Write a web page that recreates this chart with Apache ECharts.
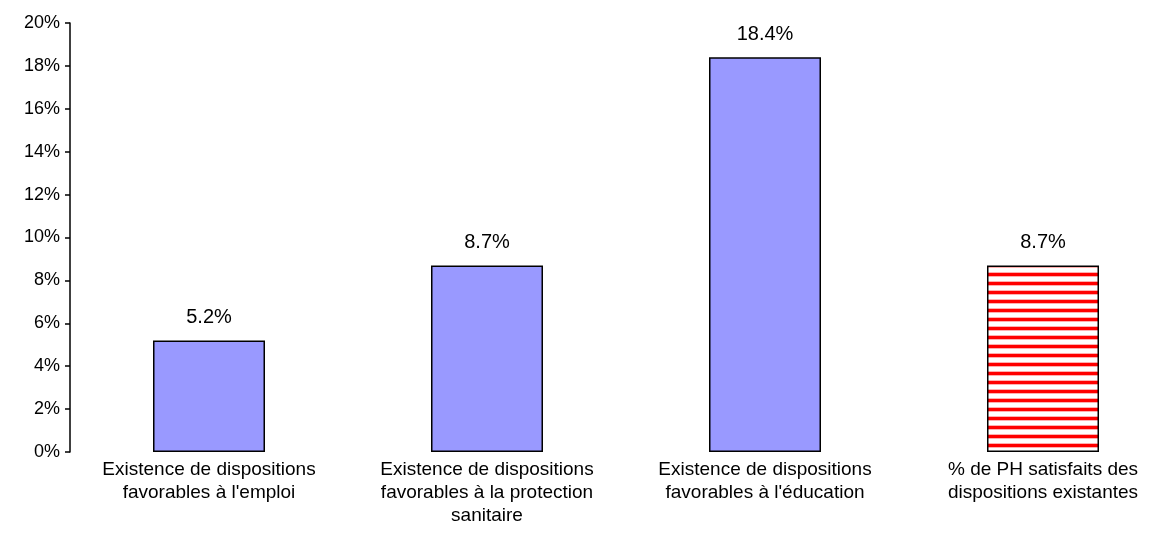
<!DOCTYPE html>
<html>
<head>
<meta charset="utf-8">
<script src="https://cdn.jsdelivr.net/npm/echarts@6/dist/echarts.min.js"></script>
<style>
  html, body { margin: 0; padding: 0; background: #fff; overflow: hidden; }
  /* la zone de tracé dépasse à droite, comme dans l'original */
  #chart { width: 1190px; height: 543px; }
</style>
</head>
<body>
<div id="chart"></div>
<script>
const categories = [
  'Existence de dispositions\nfavorables à l\'emploi',
  'Existence de dispositions\nfavorables à la protection\nsanitaire',
  'Existence de dispositions\nfavorables à l\'éducation',
  '% de PH satisfaits des\ndispositions existantes'
]
const values = [5.2, 8.7, 18.4, 8.7]
const yTicks = [0, 2, 4, 6, 8, 10, 12, 14, 16, 18, 20]

const font = 'Liberation Sans, Arial, sans-serif'

// motif rayé pour la dernière barre
const makeStripes = () => {
  const c = document.createElement('canvas')
  c.width = 9
  c.height = 9
  const ctx = c.getContext('2d')
  ctx.fillStyle = '#ffffff'
  ctx.fillRect(0, 0, 9, 9)
  ctx.fillStyle = '#ffb0b0'
  ctx.fillRect(0, 2, 9, 1)
  ctx.fillRect(0, 6, 9, 1)
  ctx.fillStyle = '#ff0000'
  ctx.fillRect(0, 3, 9, 3)
  return c
}

const chart = echarts.init(document.getElementById('chart'))

const data = values.map((v, i) => ({
  value: v,
  itemStyle: i === 3
    ? { color: { image: makeStripes(), repeat: 'repeat' } }
    : { color: '#9999ff' }
}))

chart.setOption({
  animation: false,
  grid: { left: 70, top: 23, width: 1112, bottom: 91 },
  xAxis: {
    type: 'category',
    data: categories,
    axisLine: { show: false },
    axisTick: { show: false },
    axisLabel: {
      interval: 0,
      margin: 6,
      color: '#000',
      fontFamily: font,
      fontSize: 19,
      lineHeight: 23
    }
  },
  yAxis: {
    type: 'value',
    min: yTicks[0],
    max: yTicks[yTicks.length - 1],
    interval: 2,
    splitLine: { show: false },
    axisLine: { show: true, lineStyle: { color: '#000', width: 1.5 } },
    axisTick: { show: true, inside: false, length: 5, lineStyle: { color: '#000', width: 1.5 } },
    axisLabel: {
      margin: 10,
      color: '#000',
      fontFamily: font,
      fontSize: 18,
      formatter: v => v + '%'
    }
  },
  series: [
    {
      type: 'bar',
      data: data,
      barWidth: 112,
      itemStyle: { borderColor: '#000', borderWidth: 1.5 },
      label: {
        show: true,
        position: 'top',
        distance: 13,
        color: '#000',
        fontFamily: font,
        fontSize: 20,
        formatter: p => p.value.toFixed(1) + '%'
      }
    }
  ]
})
</script>
</body>
</html>
